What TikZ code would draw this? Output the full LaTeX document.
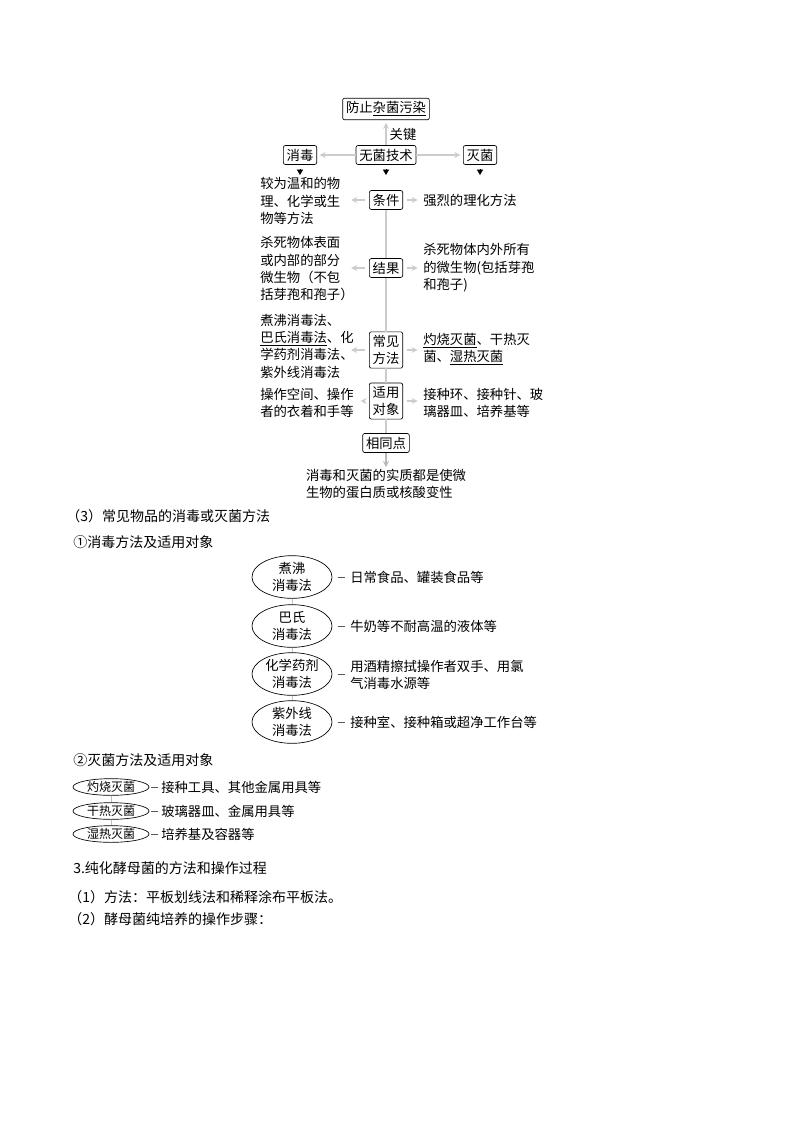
\documentclass[tikz,border=0pt]{standalone}
\usepackage{fontspec}
\newfontfamily\cjk{Noto Sans CJK SC}
\usetikzlibrary{shapes.geometric,arrows.meta}
\begin{document}
\begin{tikzpicture}[x=0.75pt,y=-0.75pt]
	\tikzstyle{texte}=[font=\cjk\fontsize{10}{13}\selectfont, inner sep=0pt, align=left]
	\tikzstyle{boite}=[texte, draw, rounded corners=1.5pt, inner xsep=2.5pt, inner ysep=2.5pt, line width=0.5pt, align=center]
	\tikzstyle{fleche}=[draw=gray!40, line width=1.5pt, -{Stealth[length=4.5pt,width=4.5pt]}]
	\tikzstyle{tige}=[draw=gray!40, line width=1.2pt]
	\tikzstyle{pointe}=[-{Triangle[length=4pt,width=4.5pt]}, line width=0.4pt]
	\tikzstyle{ovale}=[texte, ellipse, draw, line width=0.5pt, minimum width=60pt, minimum height=32pt, align=center]
	\tikzstyle{petit_ovale}=[ellipse, draw, line width=0.5pt, minimum width=57pt, minimum height=12.5pt, inner sep=0pt, font=\cjk\fontsize{9}{11}\selectfont]
	\tikzstyle{trait}=[draw=black!65, line width=0.6pt]
	\tikzstyle{titre}=[font=\cjk\fontsize{10.5}{13}\selectfont, inner sep=0pt, anchor=west]
	\useasboundingbox[fill=white] (0,0) rectangle (800,1132);
	% schema du haut
	\node[boite] (protection) at (386,109) {防止\underline{杂菌污染}};
	\node[boite] (technique) at (386,155) {无菌技术};
	\node[boite] (desinfection) at (300,155) {消毒};
	\node[boite] (sterilisation) at (480,155) {灭菌};
	\node[texte] (cle) at (403,134) {关键};
	\draw[fleche, shorten >=2pt] (technique) -- (protection);
	\draw[fleche, shorten >=2pt] (technique) -- (desinfection);
	\draw[fleche, shorten >=2pt] (technique) -- (sterilisation);
	\draw[pointe] ([yshift=-3.5pt]desinfection.south) -- ++(0,5.5);
	\draw[pointe] ([yshift=-3.5pt]technique.south) -- ++(0,5.5);
	\draw[pointe] ([yshift=-3.5pt]sterilisation.south) -- ++(0,5.5);
	\node[boite] (condition) at (386,200) {条件};
	\node[texte, anchor=west, text width=63pt] (condition_g) at (260,201) {较为温和的物\\理、化学或生\\物等方法}; % gauche
	\node[texte, anchor=west] (condition_d) at (423,200) {强烈的理化方法}; % droite
	\node[boite] (resultat) at (386,268) {结果};
	\node[texte, anchor=west, text width=63pt] (resultat_g) at (260,269) {杀死物体表面\\或内部的部分\\微生物（不包\\括芽孢和孢子）};
	\node[texte, anchor=west] (resultat_d) at (423,268) {杀死物体内外所有\\的微生物(包括芽孢\\和孢子)};
	\node[boite] (methode) at (386,350) {常见\\方法};
	\node[texte, anchor=west, text width=63pt] (methode_g) at (260,346) {煮沸消毒法、\\\underline{巴氏消毒法}、化\\学药剂消毒法、\\紫外线消毒法};
	\node[texte, anchor=west] (methode_d) at (423,349) {\underline{灼烧灭菌}、干热灭\\菌、\underline{湿热灭菌}};
	\node[boite] (objet) at (386,401) {适用\\对象};
	\node[texte, anchor=west, text width=70pt] (objet_g) at (260,403) {操作空间、操作\\者的衣着和手等};
	\node[texte, anchor=west] (objet_d) at (423,403) {接种环、接种针、玻\\璃器皿、培养基等};
	\node[boite] (commun) at (386,443) {相同点};
	\node[texte] (essence) at (386,484) {消毒和灭菌的实质都是使微\\生物的蛋白质或核酸变性};
	\coordinate (essence_haut) at (386,467);
	\foreach \n in {condition,resultat,methode,objet}{
		\draw[fleche, shorten <=3pt, shorten >=5pt] (\n.west) -- (\n.west -| \n_g.east);
		\draw[fleche, shorten <=3pt, shorten >=4pt] (\n.east) -- (\n.east -| \n_d.west);
	}
	\draw[tige] (condition) -- (resultat);
	\draw[tige] (resultat) -- (methode);
	\draw[tige] (methode) -- (objet);
	\draw[tige] (objet) -- (commun);
	\draw[fleche, draw=gray!55] (commun.south) -- (essence_haut);
	% (3)
	\node[titre] (titre3) at (66,516) {（3）常见物品的消毒或灭菌方法};
	\node[titre] (titre31) at (73,542) {①消毒方法及适用对象};
	\node[ovale] (bouillir) at (292,577) {煮沸\\消毒法};
	\node[ovale] (pasteur) at (292,626) {巴氏\\消毒法};
	\node[ovale] (chimique) at (292,674) {化学药剂\\消毒法};
	\node[ovale] (uv) at (292,722) {紫外线\\消毒法};
	\node[texte, anchor=west] (bouillir_t) at (350,577) {日常食品、罐装食品等};
	\node[texte, anchor=west] (pasteur_t) at (350,626) {牛奶等不耐高温的液体等};
	\node[texte, anchor=west] (chimique_t) at (350,675) {用酒精擦拭操作者双手、用氯\\气消毒水源等};
	\node[texte, anchor=west] (uv_t) at (350,722) {接种室、接种箱或超净工作台等};
	\draw[trait, draw=gray!50] (bouillir) -- (pasteur);
	\draw[trait, draw=gray!50] (pasteur) -- (chimique);
	\draw[trait, draw=gray!50] (chimique) -- (uv);
	\foreach \n in {bouillir,pasteur,chimique,uv}
		\draw[trait, shorten <=4pt, shorten >=4pt] (\n.east) -- (\n.east -| \n_t.west);
	\node[titre] (titre32) at (73,760) {②灭菌方法及适用对象};
	\node[petit_ovale] (flamme) at (111,787) {灼烧灭菌};
	\node[petit_ovale] (sec) at (111,811) {干热灭菌};
	\node[petit_ovale] (humide) at (111,834) {湿热灭菌};
	\node[texte, anchor=west] (flamme_t) at (161,787) {接种工具、其他金属用具等};
	\node[texte, anchor=west] (sec_t) at (161,811) {玻璃器皿、金属用具等};
	\node[texte, anchor=west] (humide_t) at (161,834) {培养基及容器等};
	\draw[trait, draw=gray!50] (flamme) -- (sec);
	\draw[trait, draw=gray!50] (sec) -- (humide);
	\foreach \n in {flamme,sec,humide}
		\draw[trait, shorten <=1.5pt, shorten >=2pt] (\n.east) -- (\n.east -| \n_t.west);
	% 3.
	\node[titre] (titre4) at (73,868) {3.纯化酵母菌的方法和操作过程};
	\node[titre] (titre41) at (68,897) {（1）方法：平板划线法和稀释涂布平板法。};
	\node[titre] (titre42) at (68,919) {（2）酵母菌纯培养的操作步骤：};
\end{tikzpicture}
\end{document}
